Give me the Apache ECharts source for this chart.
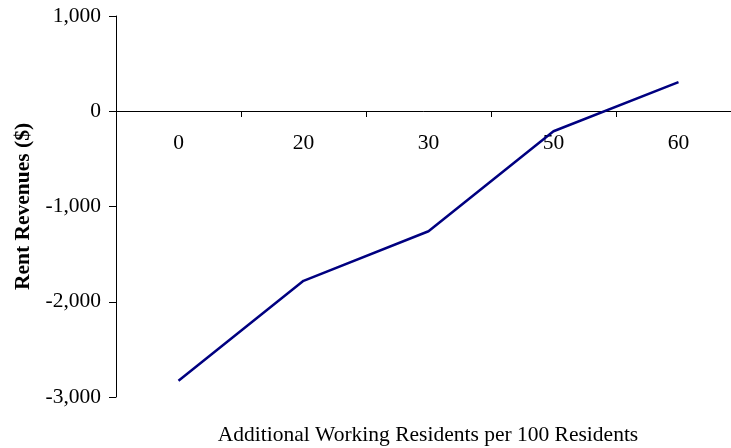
<!DOCTYPE html>
<html>
<head>
<meta charset="utf-8">
<script src="https://cdn.jsdelivr.net/npm/echarts@6/dist/echarts.min.js"></script>
<style>
html,body{margin:0;padding:0;background:#fff;}
#chart{width:731px;height:448px;}
</style>
</head>
<body>
<div id="chart"></div>
<script>
var categories = ['0', '20', '30', '50', '60'];
var rentRevenues = [-2830, -1780, -1260, -210, 305];
var yTicks = { min: -3000, max: 1000, interval: 1000 };
var xTitle = 'Additional Working Residents per 100 Residents';
var yTitle = 'Rent Revenues ($)';

var chart = echarts.init(document.getElementById('chart'));
var font = 'Liberation Serif';
chart.setOption({
  animation: false,
  backgroundColor: '#ffffff',
  grid: { left: 116, top: 16, width: 625, height: 381, containLabel: false, outerBoundsMode: 'none' },
  graphic: [{
    type: 'text', x: 428, y: 435,
    style: { text: xTitle, font: '21.5px "Liberation Serif"', fill: '#000', textAlign: 'center', textVerticalAlign: 'middle' }
  }],
  xAxis: {
    type: 'category',
    data: categories,
    boundaryGap: true,
    position: 'bottom',
    offset: -286,
    axisLine: { onZero: false, lineStyle: { color: '#000', width: 1 } },
    axisTick: { show: true, inside: false, length: 6, lineStyle: { color: '#000' } },
    axisLabel: { margin: 21, fontFamily: font, fontSize: 21.5, color: '#000' },
    splitLine: { show: false }
  },
  yAxis: {
    type: 'value',
    min: yTicks.min, max: yTicks.max, interval: yTicks.interval,
    name: yTitle,
    nameLocation: 'middle',
    nameRotate: 90,
    nameGap: 82,
    nameTextStyle: { fontFamily: font, fontSize: 21.5, fontWeight: 'bold', color: '#000' },
    axisLine: { show: true, lineStyle: { color: '#000', width: 1 } },
    axisTick: { show: true, length: 7, lineStyle: { color: '#000' } },
    axisLabel: {
      margin: 15, fontFamily: font, fontSize: 21.5, color: '#000',
      formatter: function (v) { return v.toLocaleString('en-US'); }
    },
    splitLine: { show: false }
  },
  series: [{
    type: 'line',
    data: rentRevenues,
    symbol: 'none',
    lineStyle: { color: '#000080', width: 2.5 },
    itemStyle: { color: '#000080' }
  }]
});
</script>
</body>
</html>
